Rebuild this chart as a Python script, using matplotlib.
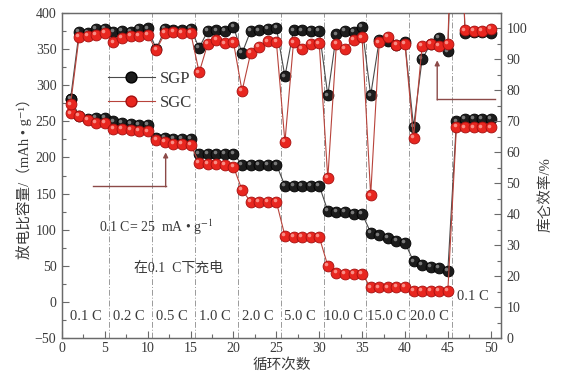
import matplotlib
matplotlib.use('Agg')
import matplotlib.pyplot as plt
import matplotlib.transforms as mtransforms
from matplotlib.ticker import MultipleLocator
from matplotlib.lines import Line2D

# ---------------- data ----------------
cycles = list(range(1, 51))

sgp_capacity = [281, 258, 253, 255, 255, 250, 248, 247, 245, 245,
                227, 227, 226, 226, 226, 205, 205, 205, 205, 205,
                190, 190, 190, 190, 190, 161, 161, 161, 161, 161,
                126, 125, 125, 122, 122, 96, 92, 89, 85, 82,
                56, 51, 49, 47, 43, 250, 253, 253, 253, 253]

sgc_capacity = [261, 258, 252, 248, 248, 239, 239, 238, 237, 236,
                224, 221, 219, 219, 217, 193, 191.5, 190.5, 189.5, 187,
                155, 138.5, 138.5, 138.5, 138.5, 91.5, 90, 90, 90, 90,
                50, 40, 38.5, 38.5, 38.5, 20, 20, 20, 21.3, 21.3,
                15.2, 15.2, 15.2, 15.2, 15.2, 242, 241.5, 241.5, 241.5, 241.5]

sgp_efficiency = [77.3, 99.0, 98.6, 99.8, 99.8, 99.0, 99.2, 99.0, 99.8, 100.0,
                  93.3, 99.8, 99.4, 99.4, 99.8, 93.8, 99.2, 99.4, 99.2, 100.5,
                  92.0, 99.2, 99.4, 99.8, 100.3, 84.5, 99.4, 99.4, 99.2, 99.2,
                  78.4, 98.1, 99.2, 98.9, 100.5, 78.4, 96.3, 96.0, 94.7, 95.5,
                  68.2, 90.1, 95.1, 96.9, 92.6, 180, 98.7, 98.9, 98.9, 98.7]

sgc_efficiency = [75.5, 97.4, 97.6, 97.9, 98.5, 95.5, 97.0, 97.6, 97.6, 97.8,
                  93.1, 98.5, 99.0, 98.7, 98.7, 85.8, 95.1, 96.2, 95.2, 95.5,
                  79.8, 92.0, 94.0, 95.8, 95.7, 63.3, 95.5, 93.5, 94.9, 95.2,
                  51.6, 94.9, 93.5, 96.3, 97.1, 46.1, 95.5, 97.3, 94.7, 95.1,
                  64.7, 94.4, 95.1, 94.4, 95.1, 180, 99.4, 99.2, 99.2, 99.8]

rate_labels = ['0.1 C', '0.2 C', '0.5 C', '1.0 C', '2.0 C',
               '5.0 C', '10.0 C', '15.0 C', '20.0 C']
final_rate_label = '0.1 C'
segment_starts = [1, 6, 11, 16, 21, 26, 31, 36, 41]
rate_boundaries = [5.5, 10.5, 15.5, 20.5, 25.5, 30.5, 35.5, 40.5, 45.5]

series_names = ['SGP', 'SGC']

# ---------------- style ----------------
plt.rcParams['font.family'] = ['Liberation Serif', 'Noto Sans CJK SC', 'DejaVu Sans']
plt.rcParams['mathtext.fontset'] = 'stix'
plt.rcParams['axes.unicode_minus'] = True

TXT = '#3a3a3a'
SPINE = '#6a6a6a'
BLACK_FACE, BLACK_EDGE, BLACK_LINE = '#1c1c1c', '#000000', '#4a4a4a'
RED_FACE, RED_EDGE, RED_LINE = '#e8261f', '#a50f0f', '#b8433b'
ARROW = '#8c4a48'

fig = plt.figure(figsize=(5.63, 3.80), dpi=100)
ax = fig.add_axes([62 / 563, 1 - 338 / 380, (501 - 62) / 563, (338 - 13) / 380])
ax2 = ax.twinx()

ax.set_xlim(0, 51.2)
ax.set_ylim(-50, 400)
ax2.set_ylim(0, 105)

for a in (ax, ax2):
    for s in a.spines.values():
        s.set_color(SPINE)
        s.set_linewidth(0.9)

# rate boundaries
for b in rate_boundaries:
    ax.axvline(b, color='#9a9a9a', lw=0.7, ls=(0, (6, 2, 1, 2)), zorder=1)

MS = 7.8


def sphere(axis, x, y, face, edge, line, hl, z):
    axis.plot(x, y, '-', color=line, lw=0.8, zorder=z)
    axis.plot(x, y, 'o', ms=MS, mfc=face, mec=edge, mew=0.6, zorder=z + 0.1,
              ls='none')
    off = mtransforms.ScaledTranslation(-1.3 / 72, 1.3 / 72, fig.dpi_scale_trans)
    axis.plot(x, y, 'o', ms=2.6, mfc=hl, mec='none', alpha=0.75,
              transform=axis.transData + off, zorder=z + 0.2, ls='none')


sphere(ax, cycles, sgp_capacity, BLACK_FACE, BLACK_EDGE, BLACK_LINE, '#9a9a9a', 3)
sphere(ax, cycles, sgc_capacity, RED_FACE, RED_EDGE, RED_LINE, '#ffb0a8', 4)
sphere(ax2, cycles, sgp_efficiency, BLACK_FACE, BLACK_EDGE, BLACK_LINE, '#9a9a9a', 3)
sphere(ax2, cycles, sgc_efficiency, RED_FACE, RED_EDGE, RED_LINE, '#ffb0a8', 4)

# ticks
ax.xaxis.set_major_locator(MultipleLocator(5))
ax.xaxis.set_minor_locator(MultipleLocator(2.5))
ax.yaxis.set_major_locator(MultipleLocator(50))
ax.yaxis.set_minor_locator(MultipleLocator(25))
ax2.yaxis.set_major_locator(MultipleLocator(10))
ax2.yaxis.set_minor_locator(MultipleLocator(5))
ax2.set_yticks(range(0, 101, 10))

ax.tick_params(axis='both', which='both', direction='in', colors=SPINE,
               labelcolor=TXT, labelsize=10, top=False, right=False)
ax.tick_params(which='major', length=5, width=0.8)
ax.tick_params(which='minor', length=3, width=0.8)
ax.tick_params(axis='y', pad=4)
ax.tick_params(axis='x', pad=3)
ax2.tick_params(axis='y', which='both', direction='in', colors=SPINE,
                labelcolor=TXT, labelsize=10, pad=4)
ax2.tick_params(which='major', length=5, width=0.8)
ax2.tick_params(which='minor', length=3, width=0.8)

# axis labels
ax.set_xlabel('循环次数', fontsize=10.5, color=TXT, labelpad=2)
ax.set_ylabel('放电比容量/（mAh • g⁻¹）', fontsize=10.5, color=TXT)
ax.yaxis.set_label_coords(-0.068, 0.5)
ax2.set_ylabel('库仑效率/%', fontsize=10.5, color=TXT)
ax2.yaxis.set_label_coords(1.085, 0.44)

# rate labels
for lab, st in zip(rate_labels, segment_starts):
    ax.text(st + 1.8, -20, lab, ha='center', va='center', fontsize=10.5, color=TXT)
ax.text(47.9, 8, final_rate_label, ha='center', va='center', fontsize=10.5, color=TXT)

ax.text(4.3, 103, '0.1 C= 25  mA • g$^{-1}$', ha='left', va='center',
        fontsize=10, color=TXT)
ax.text(8.4, 46.7, '在0.1  C下充电', ha='left', va='center', fontsize=10, color=TXT)

# arrows
ax.plot([3.57, 12.09], [159.8, 159.8], color=ARROW, lw=1.0, zorder=2)
ax.annotate('', xy=(12.09, 207), xytext=(12.09, 159.3),
            arrowprops=dict(arrowstyle='-|>', color=ARROW, lw=1.0,
                            mutation_scale=7, shrinkA=0, shrinkB=0), zorder=2)
ax2.plot([43.76, 50.47], [77.1, 77.1], color=ARROW, lw=1.0, zorder=2)
ax2.annotate('', xy=(43.76, 89.7), xytext=(43.76, 76.9),
             arrowprops=dict(arrowstyle='-|>', color=ARROW, lw=1.0,
                             mutation_scale=7, shrinkA=0, shrinkB=0), zorder=2)

# legend
handles = [
    Line2D([], [], color=BLACK_LINE, lw=0.8, marker='o', ms=MS,
           mfc=BLACK_FACE, mec=BLACK_EDGE),
    Line2D([], [], color=RED_LINE, lw=0.8, marker='o', ms=MS,
           mfc=RED_FACE, mec=RED_EDGE),
]
leg = ax2.legend(handles, series_names, loc='upper left',
                 bbox_to_anchor=(0.105, 0.822), frameon=False, fontsize=12,
                 handlelength=2.8, handletextpad=0.3, labelspacing=0.5,
                 borderpad=0, borderaxespad=0)
for t in leg.get_texts():
    t.set_color(TXT)

fig.savefig('out.png', dpi=100)
